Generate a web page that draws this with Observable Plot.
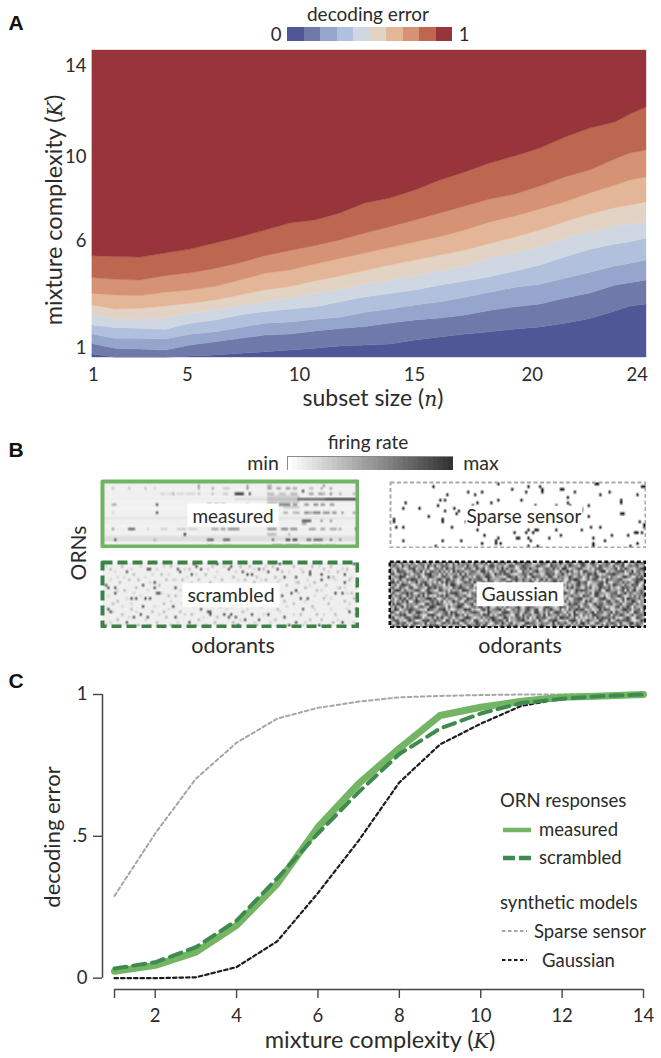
<!DOCTYPE html>
<html><head><meta charset="utf-8">
<script src="https://cdn.jsdelivr.net/npm/d3@7"></script>
<script src="https://cdn.jsdelivr.net/npm/@observablehq/plot@0.6"></script>
<style>
html,body{margin:0;padding:0;background:#fff;overflow:hidden}
#page{position:relative;width:661px;height:1058px;font-family:Lato,"Open Sans",sans-serif;color:#2b2b2b}
#page svg.plot,#page svg{position:absolute}
.t{position:absolute;white-space:nowrap;line-height:1}
.k{font-family:"DejaVu Serif","Liberation Serif",serif;font-style:italic;font-size:.88em}
</style></head><body><div id="page"></div>
<script>
// ---------- Panel A data: contour boundaries of decoding error (K) at sampled subset sizes
const subsetN=[1,1.95,2.99,4.03,5.07,6.11,7.14,8.18,9.22,10.26,11.29,12.33,13.37,14.41,15.45,16.48,17.52,18.56,19.6,20.63,21.67,22.71,23.33,24];
const b1=[0.74,0.6,0.6,0.6,0.65,0.69,0.77,0.84,0.92,1.0,1.1,1.15,1.19,1.38,1.51,1.65,1.75,1.88,1.97,2.14,2.36,2.7,2.93,3.02];
const b2=[1.22,1.0,0.96,0.92,1.15,1.3,1.45,1.6,1.65,1.79,1.9,1.99,2.15,2.29,2.38,2.52,2.73,2.89,3.02,3.29,3.52,3.88,3.99,4.11];
const b3=[1.65,1.45,1.45,1.42,1.64,1.75,1.94,2.14,2.2,2.32,2.41,2.64,2.79,2.97,3.12,3.32,3.55,3.78,3.92,4.19,4.46,4.75,4.87,5.02];
const b4=[2.06,1.95,1.91,1.86,2.14,2.29,2.52,2.67,2.79,2.89,3.12,3.35,3.5,3.66,3.88,4.07,4.26,4.52,4.8,5.17,5.51,5.75,5.86,6.03];
const b5=[2.52,2.36,2.33,2.39,2.59,2.74,2.94,3.12,3.29,3.52,3.7,3.93,4.11,4.29,4.52,4.75,5.13,5.36,5.63,6.03,6.3,6.57,6.66,6.77];
const b6=[2.97,2.79,2.82,2.93,3.05,3.2,3.43,3.66,3.81,4.07,4.29,4.54,4.8,5.02,5.25,5.48,5.78,6.07,6.39,6.77,7.12,7.41,7.53,7.67];
const b7=[3.5,3.43,3.4,3.55,3.66,3.81,4.11,4.42,4.57,4.84,5.09,5.34,5.59,5.84,6.09,6.39,6.76,7.03,7.35,7.68,8.08,8.44,8.67,8.81];
const b8=[4.22,4.14,4.11,4.31,4.44,4.64,4.9,5.22,5.46,5.68,5.94,6.25,6.54,6.85,7.17,7.49,7.8,8.03,8.4,8.81,9.13,9.63,9.9,10.04];
const b9=[5.22,5.18,5.16,5.34,5.52,5.8,6.07,6.39,6.71,6.85,7.17,7.62,7.85,8.22,8.67,9.04,9.45,9.77,10.13,10.63,11.04,11.32,11.68,12.0];
const boundaries=[b1,b2,b3,b4,b5,b6,b7,b8,b9];
const errorColors=["#4f5797","#6f7aab","#95a5cb","#b1c0dc","#cfd7e2","#e2d3c5","#e4b698","#d69274","#bd6650","#98353a"];
const kMin=0.6,kMax=14.6;
const aXPos=[1.04,4.94,9.59,14.37,19.26,23.62], aXLab=["1","5","10","15","20","24"];
const aYPos=[1.01,5.89,9.72,13.91], aYLab=["1","6","10","14"];

// ---------- Panel B data: response matrices, 110 odorants x 24 ORNs
const nCols=110,nRows=24;
const measuredRowBase=[.05,.07,.06,.06,.07,.06,.07,.05,.06,.05,.05,.06,.06,.11,.06,.07,.05,.07,.06,.06,.13,.14,.06,.08];
const measuredRuns=[[2,4,4,.25],[2,11,11,.25],[2,18,18,.25],[2,22,22,.17],[2,41,41,.35],[2,47,47,.35],[2,52,54,.2],[2,62,62,.4],[2,71,72,.38],[2,75,76,.35],[2,79,80,.38],[2,82,83,.32],[2,89,90,.25],[2,94,94,.35],[2,98,98,.42],
[1,41,41,.4],[1,62,62,.35],[1,71,72,.3],[1,95,95,.42],[3,86,86,.8],
[4,25,26,.17],[4,28,29,.15],[4,30,30,.33],[4,32,34,.16],[4,36,39,.17],[4,41,41,.25],[4,47,47,.25],[4,57,60,.85],[4,63,63,.72],[4,52,53,.2],[4,71,73,.28],[4,76,78,.24],[4,81,83,.28],[4,89,90,.38],[4,93,94,.38],[4,95,95,.32],[4,98,98,.5],[4,102,102,.32],[4,108,108,.32],
[5,55,70,.08],[5,71,84,.2],[6,57,70,.14],[6,71,84,.27],[6,84,95,.62],[6,96,110,.75],[7,71,84,.2],
[8,4,5,.32],[8,23,23,.72],[8,45,46,.4],[8,48,49,.4],[8,51,52,.38],[8,62,62,.3],[8,71,74,.42],[8,76,80,.5],[8,82,83,.4],[8,87,88,.4],[8,91,92,.45],[8,94,95,.4],[8,98,99,.4],[9,78,84,.2],
[11,4,4,.16],[11,23,23,.72],[11,78,79,.3],[11,82,84,.3],[11,87,88,.45],[11,89,90,.3],[11,91,93,.5],[11,95,97,.42],[11,99,100,.4],[11,103,103,.4],[11,108,108,.42],
[14,86,89,.68],[14,94,94,.4],[14,98,98,.42],[14,71,73,.15],[15,86,87,.36],
[17,4,4,.4],[17,11,13,.6],[17,19,19,.2],[17,25,27,.18],[17,32,35,.2],[17,37,40,.18],[17,47,49,.35],[17,51,52,.4],[17,54,58,.45],[17,71,74,.45],[17,77,79,.5],[17,81,83,.45],[17,89,91,.38],[17,94,95,.38],[17,98,100,.35],[17,102,102,.4],[17,109,109,.85],
[19,35,35,.88],[19,71,74,.28],[19,80,80,.3],
[21,5,5,.7],[21,22,22,.36],[21,45,47,.62],[21,52,54,.62],[21,73,73,.62],[21,79,80,.72],[21,82,83,.72],[21,88,89,.58],[21,91,94,.58],[21,98,98,.6],[21,102,102,.48],
[23,45,47,.2],[23,52,55,.18],[23,73,77,.32],[23,79,84,.35],[23,90,94,.22],[23,96,100,.22]];
const scrambledBase=.07;
const scrambledDark=[[5,9],[5,11],[2,9],[1,8],[10,3],[19,2],[20,2],[17,8],[22,7],[22,9],[23,11],[12,13],[14,13],[20,13],[18,13],[24,11],[32,2],[33,3],[39,0],[40,1],[38,4],[36,9],[31,9],[42,2],[49,0],[54,2],[55,1],[60,3],[62,4],[64,4],[67,2],[71,3],[75,2],[76,0],[78,5],[83,5],[89,3],[89,4],[94,4],[94,6],[97,5],[104,4],[104,7],[108,0],[103,11],[100,11],[109,17],[109,19],[106,18],[83,10],[85,13],[88,13],[81,11],[77,12],[17,16],[16,19],[13,20],[19,20],[10,22],[2,17],[3,18],[30,16],[31,20],[37,22],[42,17],[45,18],[46,19],[46,18],[52,19],[54,20],[55,19],[57,20],[58,23],[61,21],[64,19],[67,21],[71,19],[78,20],[80,23],[83,22],[86,17],[93,23],[103,22]];
const scrambledMid=[[3,2],[8,1],[13,4],[15,6],[7,7],[9,10],[11,6],[14,9],[25,4],[27,6],[29,1],[24,8],[28,12],[26,15],[6,14],[4,15],[8,19],[12,17],[21,18],[23,22],[27,20],[33,18],[35,14],[34,6],[37,2],[41,6],[44,4],[47,1],[46,7],[43,11],[39,12],[41,21],[48,22],[50,16],[51,6],[53,9],[56,5],[58,8],[59,1],[61,6],[63,1],[65,7],[66,5],[69,2],[70,6],[72,8],[74,5],[73,1],[77,3],[79,8],[82,1],[84,7],[86,3],[87,9],[90,1],[91,7],[92,10],[95,2],[96,8],[98,1],[99,5],[101,3],[102,9],[105,2],[106,6],[107,11],[95,13],[97,15],[90,16],[92,19],[89,21],[85,19],[75,17],[74,21],[68,16],[66,23],[60,18],[56,22],[49,20],[44,23],[38,19],[29,23],[26,18],[15,23],[6,21],[1,23],[100,19],[104,14],[108,13],[94,21],[99,22],[82,15],[78,14],[36,11],[47,13],[31,12]];
const scrambledLight=[[1,1],[5,3],[9,5],[12,2],[16,1],[18,5],[21,4],[23,2],[26,1],[28,4],[30,6],[35,2],[36,5],[40,4],[45,2],[48,5],[52,1],[57,3],[65,2],[68,6],[70,1],[76,6],[80,3],[85,2],[88,6],[93,1],[97,3],[100,6],[103,2],[107,5],[2,12],[6,10],[10,13],[13,11],[16,12],[19,10],[25,11],[29,14],[33,10],[37,13],[41,14],[84,11],[87,14],[91,12],[94,10],[98,13],[101,9],[105,11],[109,9],[4,18],[8,16],[11,20],[14,18],[18,21],[22,16],[24,19],[28,17],[32,22],[35,19],[39,16],[43,20],[47,16],[51,23],[53,17],[59,21],[62,17],[65,22],[69,19],[72,22],[76,18],[79,16],[82,19],[87,22],[91,17],[95,19],[98,17],[101,21],[105,17],[108,22],[3,22],[7,23],[12,15],[20,23],[34,15],[40,23],[63,23],[70,15],[86,23],[97,23],[106,15],[109,2],[60,15],[55,16],[31,6],[42,8],[89,8],[96,12],[104,9],[83,7],[75,7],[67,8],[58,6],[49,3],[38,7],[20,7],[6,5],[3,6]];
const sparseDots=[[18,1],[46,0],[59,1],[64,1],[65,2],[73,2],[74,2],[52,2],[58,3],[65,3],[79,3],[89,0],[88,0],[33,3],[39,3],[36,4],[24,4],[23,6],[21,6],[76,5],[90,4],[94,3],[106,4],[99,6],[99,7],[108,1],[109,1],[56,6],[46,6],[43,7],[37,7],[35,8],[6,7],[5,9],[12,9],[20,8],[27,9],[62,8],[71,8],[76,7],[77,8],[85,8],[82,9],[29,10],[23,10],[28,11],[99,11],[100,11],[16,12],[1,13],[1,14],[22,13],[22,14],[32,14],[26,16],[5,16],[2,16],[85,12],[107,14],[109,15],[109,16],[82,10],[81,12],[86,16],[90,16],[82,17],[59,17],[58,18],[62,17],[63,17],[61,18],[71,17],[37,17],[40,19],[53,18],[54,20],[55,20],[59,20],[60,21],[46,20],[39,22],[45,22],[47,22],[45,21],[5,21],[22,21],[30,21],[19,23],[59,23],[63,23],[68,20],[73,19],[87,20],[87,22],[87,23],[92,21],[95,19],[102,19],[105,18],[106,18],[108,18],[106,22],[103,23]];
const gaussianRows=[
"54726635284167543925566283471936655284473916625748335196648572234866175539426771358842694415576238849125367574",
"37651944826635719548237764183556294477316259845362288714596633487552196744283965517842366195574283369147558326",
"62484513779254638116647295583441767329558146627393845512768394461257738462995144687332516786243559174863325698",
"45197762338549261775483626194857335764289451633778249561184625793347665128449572361885437269915346778254916637",
"78326495514673288945617372546291837554426683195748863214577396254138867245935164472638859413267796534128664735",
"23659871446285137964326855178439662517743986245331697582448129766352884175533962476148257936651744238965127483",
"56148327698734526143795288364157329466872195443578216695384472615938257744612859963147378524196645783321568894",
"89472635154926783352618494773125866394258467713542896173365489227164558937416623695781244578392156638474269513",
"34715986621458397276543182996374455812637594286157345682479138664923576118845263794471532688146397552743868129",
"67238541793265418859476233184796526638149574327865124495683372148956327764518493662275814396748253159674382246",
"15896274346873159542287461635529874316478152963358447126695238874152663489732514968774325681297446358183692574",
"48324769582146738965513274889643152766829437315586129794463378152649637528896415733264718955324678146937525583",
"92657318474593826131668495237746821569315278644893526714285961337448265196723584451967328842613755984126373648",
"36148592763825479958214736641583297746239158873624415998257436615873294468537126789243651378942563148297664735",
"75263849116974532684738152495621864377254136899453728163346895721582364947183526674195832465279348617254983162",
"18497326554632189475986324153778246915463782518964375219684233591742865367214958842673159477356824591368627453",
"63825917473158642997246518346995213674882593147262854479315876423169753148862574391567234986514237826495173348",
"24971356886542319763487925114635978242169483567937215648426953781284695337152846968724513394876125348967256719",
"87316452952897463125634781968241536787514296343178962557238641894362715986417329254583691767245918635472198536",
"42658793136473218896215684739847162354639781525867341296184573367291854473562918841736289653248176597314825674",
"59134268747986153372849326516524897413372658964149725368573814296685143729968437152414362958776582314695128743",
"36872415965123879448563197272479635188415263976862914357794325618531678942342789516168543297429136857786213495",
"71495682328764391555126847396813752449653841277395268144218967533746529186584173629937216854165874392248937561",
"28563947186315274968947251633472189566829713541573684692396254817964138527725916384841675329394268175618459732"];

// ---------- Panel C data
const complexity=[1,2,3,4,5,6,7,8,9,10,11,12,13,14];
const measured=[.024,.045,.092,.186,.333,.532,.686,.81,.926,.955,.976,.99,.995,1];
const scrambled=[.034,.056,.109,.203,.352,.51,.656,.79,.88,.933,.97,.985,.995,1];
const sparse=[.29,.51,.703,.83,.915,.953,.975,.99,.995,.998,1,1,1,1];
const gaussian=[0,0,.003,.039,.13,.30,.485,.69,.824,.897,.96,.985,.995,1];
const cXTicks=[1,2,4,6,8,10,12,14];
const cYTicks=[0,.5,1], cYLab={0:"0",0.5:".5",1:"1"};
const greenLight="#74b564",greenDark="#3f8a4e",grayLine="#a6a6a6",blackLine="#1c1c1c";

// ---------- helpers
const page=document.getElementById("page");
const fontFamily='Lato,"Open Sans",sans-serif';
const put=(svg,left,top)=>{svg.style.position="absolute";svg.style.left=left+"px";svg.style.top=top+"px";svg.style.background="transparent";svg.style.maxWidth="none";page.appendChild(svg);return svg;};
function lab(html,x,y,o={}){const d=document.createElement("div");d.className="t";d.innerHTML=html;
 d.style.left=x+"px";d.style.top=y+"px";d.style.fontSize=(o.size||19)+"px";
 if(o.family)d.style.fontFamily=o.family;if(o.weight)d.style.fontWeight=o.weight;if(o.color)d.style.color=o.color;
 const tx=o.anchor==="start"?"0":"-50%";d.style.transform=`translate(${tx},-50%)`+(o.rot?` rotate(${o.rot}deg)`:"");
 if(o.bg){d.style.background=o.bg;d.style.padding=o.pad||"2px 5px";}
 page.appendChild(d);return d;}

// ---------- Panel A
const lowers=[subsetN.map(()=>kMin),...boundaries];
const uppers=[...boundaries,subsetN.map(()=>kMax)];
const bandMarks=errorColors.map((c,i)=>Plot.areaY(subsetN,{x:d=>d,y1:(d,j)=>lowers[i][j],y2:(d,j)=>uppers[i][j],fill:c,stroke:c,strokeWidth:.4}));
put(Plot.plot({width:661,height:400,marginLeft:92,marginRight:15,marginTop:50,marginBottom:43,
 style:{fontFamily,fontSize:"18px",color:"#2b2b2b"},
 x:{domain:[1,24]},y:{domain:[kMin,kMax]},
 marks:[...bandMarks,
  Plot.axisX(aXPos,{tickSize:0,tickPadding:10,label:null,fontSize:18.5,tickFormat:d=>aXLab[aXPos.indexOf(d)]}),
  Plot.axisY(aYPos,{tickSize:0,tickPadding:6,label:null,fontSize:18.5,tickFormat:d=>aYLab[aYPos.indexOf(d)]})
 ]}),0,0);
put(Plot.plot({width:165,height:14,margin:0,x:{type:"band",domain:errorColors,padding:0,round:false,axis:null},y:{axis:null},
 marks:[Plot.cell(errorColors,{x:d=>d,fill:d=>d,shapeRendering:"crispEdges"})]}),287,27);
lab("A",16,22,{size:21,weight:"bold",family:'"Liberation Sans",Arial,sans-serif',color:"#111"});
lab("decoding error",368,13,{size:19});
lab("0",276,34,{size:18.5});lab("1",464,34,{size:18.5});
lab('mixture complexity (<span class="k">K</span>)',54,210,{size:23.5,rot:-90});
lab('subset size (<span class="k">n</span>)',373,398,{size:23});

// ---------- Panel B
function emptyGrid(base){return Array.from({length:nRows*nCols},(_, i)=>typeof base==="number"?base:base[Math.floor(i/nCols)]);}
const measuredGrid=emptyGrid(measuredRowBase);
measuredRuns.forEach(([r,a,b,v])=>{for(let c=a;c<=Math.min(b,nCols-1);c++)measuredGrid[r*nCols+c]=v;});
const scrambledGrid=emptyGrid(scrambledBase);
scrambledLight.forEach(([c,r])=>scrambledGrid[r*nCols+c]=.18);
scrambledMid.forEach(([c,r])=>scrambledGrid[r*nCols+c]=.3);
scrambledDark.forEach(([c,r])=>scrambledGrid[r*nCols+c]=.72);
const sparseGrid=emptyGrid(0);
sparseDots.forEach(([c,r])=>sparseGrid[r*nCols+c]=1);
const gaussianGrid=gaussianRows.flatMap(s=>Array.from(s.slice(0,nCols).padEnd(nCols,"5")).map(ch=>+ch/9*.85));
function matrix(grid,left,top,w,h,frame){
 const m=frame.width/2;
 const svg=put(Plot.plot({width:w,height:h,marginLeft:m,marginRight:m,marginTop:m,marginBottom:m,
  x:{domain:[0,nCols],axis:null},y:{domain:[nRows,0],axis:null},
  color:{type:"linear",domain:[0,1],range:["#ffffff","#141414"]},
  marks:[Plot.raster(grid,{width:nCols,height:nRows,x1:0,x2:nCols,y1:0,y2:nRows,fill:d=>d}),
   Plot.frame({stroke:frame.color,strokeWidth:frame.width,strokeDasharray:frame.dash,strokeLinejoin:"round"})]}),left,top);
 svg.style.filter="blur(.4px)";
}
matrix(measuredGrid,100,479,259,69,{color:"#6fb563",width:4});
matrix(scrambledGrid,100,560,259,68,{color:"#3c8246",width:4,dash:"10,5"});
matrix(sparseGrid,389,481,257,67,{color:"#a9a9a9",width:2,dash:"4,2.5"});
matrix(gaussianGrid,388,560,258,68,{color:"#141414",width:2.6,dash:"4,2.5"});
const firingSteps=d3.range(0,1.001,1/32);
put(Plot.plot({width:166,height:14,margin:0,x:{type:"band",domain:firingSteps,padding:0,round:false,axis:null},y:{axis:null},
 color:{type:"linear",domain:[0,1],range:["#ffffff","#333333"]},
 marks:[Plot.cell(firingSteps,{x:d=>d,fill:d=>d,shapeRendering:"crispEdges"}),Plot.frame({stroke:"#8a8a8a",strokeWidth:1})]}),287,456);
lab("B",16,449,{size:21,weight:"bold",family:'"Liberation Sans",Arial,sans-serif',color:"#111"});
lab("firing rate",368,441,{size:19});
lab("min",263,463,{size:19.5});lab("max",481,463,{size:19.5});
lab("measured",233,515,{size:19,bg:"#fff"});
lab("scrambled",231,595,{size:19.5,bg:"#fff"});
lab("Sparse sensor",524,515,{size:19,bg:"#fff",pad:"0 1px"});
lab("Gaussian",520,594,{size:19.5,bg:"#fff"});
lab("ORNs",77,553,{size:21,rot:-90});
lab("odorants",233,646,{size:21.5});lab("odorants",520,646,{size:21.5});

// ---------- Panel C
const lineC=(ys,o)=>Plot.line(complexity,{x:d=>d,y:(d,i)=>ys[i],...o});
put(Plot.plot({width:661,height:388,marginLeft:102,marginRight:18,marginTop:24,marginBottom:69,
 style:{fontFamily,fontSize:"18px",color:"#2b2b2b"},
 x:{domain:[0.705,14]},y:{domain:[-0.04,1]},
 marks:[
  Plot.ruleY([-0.04],{x1:1,x2:14,stroke:"#444",strokeWidth:1.5}),
  Plot.ruleX([0.705],{y1:0,y2:1,stroke:"#444",strokeWidth:1.5}),
  Plot.axisX(cXTicks,{tickSize:9,tickPadding:10,stroke:"#444",strokeWidth:1.4,label:null,fontSize:18.5,tickFormat:d=>d===1?"":String(d)}),
  Plot.axisY(cYTicks,{tickSize:9,tickPadding:6,stroke:"#444",strokeWidth:1.4,label:null,fontSize:18.5,tickFormat:d=>cYLab[d]}),
  lineC(sparse,{stroke:grayLine,strokeWidth:2,strokeDasharray:"3.5,3"}),
  lineC(gaussian,{stroke:blackLine,strokeWidth:2.2,strokeDasharray:"3.5,3"}),
  lineC(measured,{stroke:greenLight,strokeWidth:7,strokeLinecap:"round",strokeLinejoin:"round"}),
  lineC(scrambled,{stroke:greenDark,strokeWidth:4,strokeDasharray:"12,7"})
 ]}),0,670);
lab("C",16,680,{size:21,weight:"bold",family:'"Liberation Sans",Arial,sans-serif',color:"#111"});
lab("decoding error",52,837,{size:22,rot:-90});
lab('mixture complexity (<span class="k">K</span>)',380,1040,{size:23.5});
function swatch(x,y,w,stroke,sw,dash){const s=d3.create("svg").attr("width",w).attr("height",10);
 s.append("line").attr("x1",0).attr("x2",w).attr("y1",5).attr("y2",5).attr("stroke",stroke).attr("stroke-width",sw).attr("stroke-dasharray",dash||null);
 const n=s.node();n.style.left=x+"px";n.style.top=(y-5)+"px";page.appendChild(n);}
lab("ORN responses",500,800,{size:18.5,anchor:"start"});
swatch(503,830,28,greenLight,4.5);lab("measured",539,829,{size:18.5,anchor:"start"});
swatch(503,858,28,greenDark,4.5,"12,4");lab("scrambled",539,857,{size:18.5,anchor:"start"});
lab("synthetic models",500,902,{size:18.5,anchor:"start"});
swatch(502,931,25,grayLine,2,"3.5,2.5");lab("Sparse sensor",534,931,{size:18.5,anchor:"start"});
swatch(502,960,25,blackLine,2.2,"3.5,2.5");lab("Gaussian",542,960,{size:18.5,anchor:"start"});
</script></body></html>
